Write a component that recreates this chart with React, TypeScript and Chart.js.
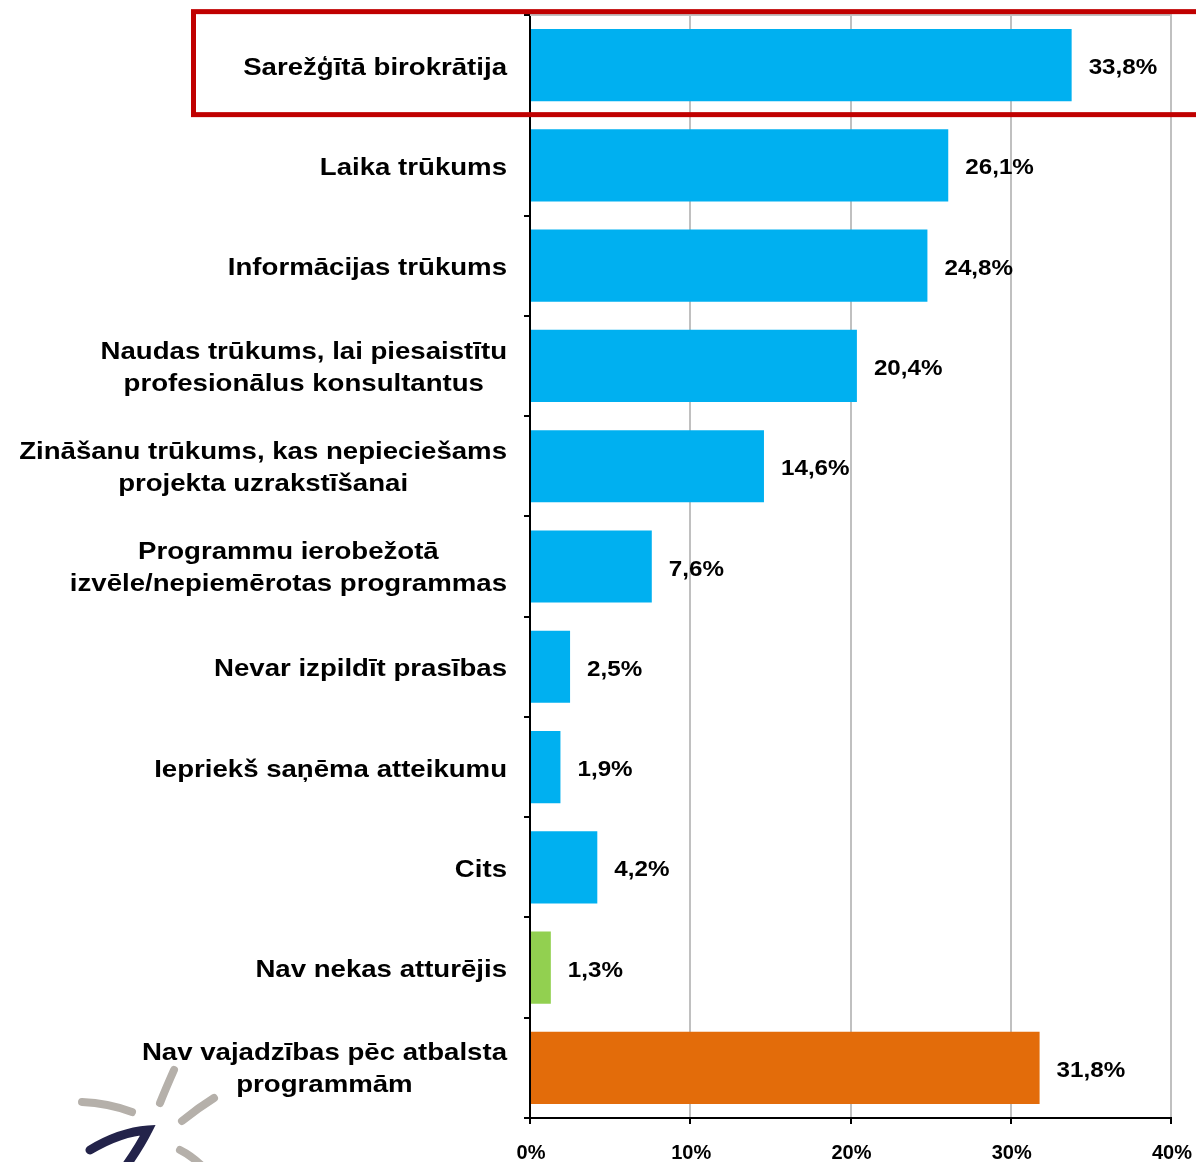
import React, { useEffect, useRef } from "react";
import { Chart, registerables } from "chart.js";

Chart.register(...registerables);

const categories: (string | string[])[] = [
  "Sarežģītā birokrātija",
  "Laika trūkums",
  "Informācijas trūkums",
  ["Naudas trūkums, lai piesaistītu", "profesionālus konsultantus"],
  ["Zināšanu trūkums, kas nepieciešams", "projekta uzrakstīšanai"],
  ["Programmu ierobežotā", "izvēle/nepiemērotas programmas"],
  "Nevar izpildīt prasības",
  "Iepriekš saņēma atteikumu",
  "Cits",
  "Nav nekas atturējis",
  ["Nav vajadzības pēc atbalsta", "programmām"],
];

const values = [33.8, 26.1, 24.8, 20.4, 14.6, 7.6, 2.5, 1.9, 4.2, 1.3, 31.8];

const BLUE = "#00B0F0";
const GREEN = "#92D050";
const ORANGE = "#E36C0A";
const barColors = [BLUE, BLUE, BLUE, BLUE, BLUE, BLUE, BLUE, BLUE, BLUE, GREEN, ORANGE];

const xTickValues = [0, 10, 20, 30, 40];
const xTickLabels = ["0%", "10%", "20%", "30%", "40%"];

const highlightedIndex = 0;

const FONT = '"Liberation Sans", Arial, sans-serif';

function fmt(v: number) {
  return v.toFixed(1).replace(".", ",") + "%";
}

function drawStretched(ctx: CanvasRenderingContext2D, text: string, x: number, y: number, align: CanvasTextAlign, sx: number) {
  ctx.save();
  ctx.translate(x, y);
  ctx.scale(sx, 1);
  ctx.textAlign = align;
  ctx.textBaseline = "middle";
  ctx.fillText(text, 0, 0);
  ctx.restore();
}

const customPlugin = {
  id: "customText",
  beforeDatasetsDraw(chart: any) {
    const { ctx, chartArea } = chart;
    ctx.save();
    ctx.strokeStyle = "#c0c0c0";
    ctx.lineWidth = 2;
    ctx.beginPath();
    ctx.moveTo(chartArea.left, chartArea.top);
    ctx.lineTo(chartArea.right + 1, chartArea.top);
    ctx.stroke();
    ctx.restore();
  },
  afterDraw(chart: any) {
    const { ctx, chartArea, scales } = chart;
    const xs = scales.x;
    const ys = scales.y;
    ctx.save();
    ctx.fillStyle = "#000";

    // category labels
    const catSx = 1.15;
    ctx.font = `bold 24px ${FONT}`;
    const rightEdge = chartArea.left - 23;
    categories.forEach((lab, i) => {
      const cy = ys.getPixelForValue(i);
      if (Array.isArray(lab)) {
        const w = Math.max(...lab.map((l) => ctx.measureText(l).width)) * catSx;
        const cx = rightEdge - w / 2;
        const lh = 32;
        const y0 = cy + 2 - ((lab.length - 1) * lh) / 2;
        lab.forEach((l, j) => drawStretched(ctx, l, cx, y0 + j * lh, "center", catSx));
      } else {
        drawStretched(ctx, lab, rightEdge, cy + 3, "right", catSx);
      }
    });

    // value labels
    ctx.font = `bold 22px ${FONT}`;
    values.forEach((v, i) => {
      const x = xs.getPixelForValue(v) + 17;
      const y = ys.getPixelForValue(i) + 3;
      drawStretched(ctx, fmt(v), x, y, "left", 1.1);
    });

    // x tick labels
    ctx.font = `bold 20px ${FONT}`;
    xTickValues.forEach((t, i) => {
      const x = xs.getPixelForValue(t) + 1;
      drawStretched(ctx, xTickLabels[i], x, chartArea.bottom + 35, "center", 1.0);
    });

    // highlight rectangle around first category
    const hc = ys.getPixelForValue(highlightedIndex);
    ctx.strokeStyle = "#C00000";
    ctx.lineWidth = 5;
    ctx.strokeRect(193.5, hc - 53.5, chart.width + 20 - 193.5, 103);

    // decorative logo strokes
    ctx.lineCap = "round";
    ctx.strokeStyle = "#b5b0aa";
    ctx.lineWidth = 8;
    const strokes: number[][] = [
      [174, 1070, 166, 1088, 160, 1103],
      [82, 1102, 108, 1103, 132, 1112],
      [182, 1121, 198, 1108, 214, 1098],
      [180, 1150, 192, 1156, 202, 1166],
    ];
    strokes.forEach((s) => {
      ctx.beginPath();
      ctx.moveTo(s[0], s[1]);
      ctx.quadraticCurveTo(s[2], s[3], s[4], s[5]);
      ctx.stroke();
    });
    ctx.strokeStyle = "#23234a";
    ctx.lineWidth = 9;
    ctx.beginPath();
    ctx.moveTo(90, 1150);
    ctx.quadraticCurveTo(120, 1132, 148, 1130);
    ctx.quadraticCurveTo(140, 1146, 126, 1166);
    ctx.stroke();
    ctx.restore();
  },
};

export default function App() {
  const ref = useRef<HTMLCanvasElement | null>(null);
  useEffect(() => {
    if (!ref.current) return;
    const chart = new Chart(ref.current, {
      type: "bar",
      data: {
        labels: categories.map((c) => (Array.isArray(c) ? c.join(" ") : c)),
        datasets: [
          {
            data: values,
            backgroundColor: barColors,
            borderWidth: 0,
            barPercentage: 0.72,
            categoryPercentage: 1,
          },
        ],
      },
      options: {
        indexAxis: "y",
        animation: false,
        responsive: false,
        devicePixelRatio: 1,
        layout: { padding: { left: 0, top: 15, right: 25, bottom: 0 } },
        plugins: {
          legend: { display: false },
          tooltip: { enabled: false },
          title: { display: false },
        },
        scales: {
          x: {
            min: 0,
            max: 40,
            ticks: {
              stepSize: 10,
              color: "rgba(0,0,0,0)",
              font: { size: 10 },
            },
            grid: {
              color: "#c0c0c0",
              lineWidth: 2,
              tickColor: "#000",
              tickLength: 6,
              drawTicks: true,
            },
            border: { color: "#000", width: 2 },
            afterFit: (scale: any) => {
              scale.height = 44;
            },
          },
          y: {
            ticks: { color: "rgba(0,0,0,0)", font: { size: 8 } },
            grid: {
              drawOnChartArea: false,
              drawTicks: true,
              tickLength: 6,
              tickColor: "#000",
              lineWidth: 2,
              offset: true,
            },
            border: { color: "#000", width: 2 },
            afterFit: (scale: any) => {
              scale.width = 530;
            },
          },
        },
      },
      plugins: [customPlugin],
    } as any);
    return () => chart.destroy();
  }, []);
  return (
    <div style={{ position: "absolute", left: 0, top: 0, width: 1196, height: 1162, background: "#fff" }}>
      <canvas ref={ref} width={1196} height={1162} style={{ display: "block" }} />
    </div>
  );
}
